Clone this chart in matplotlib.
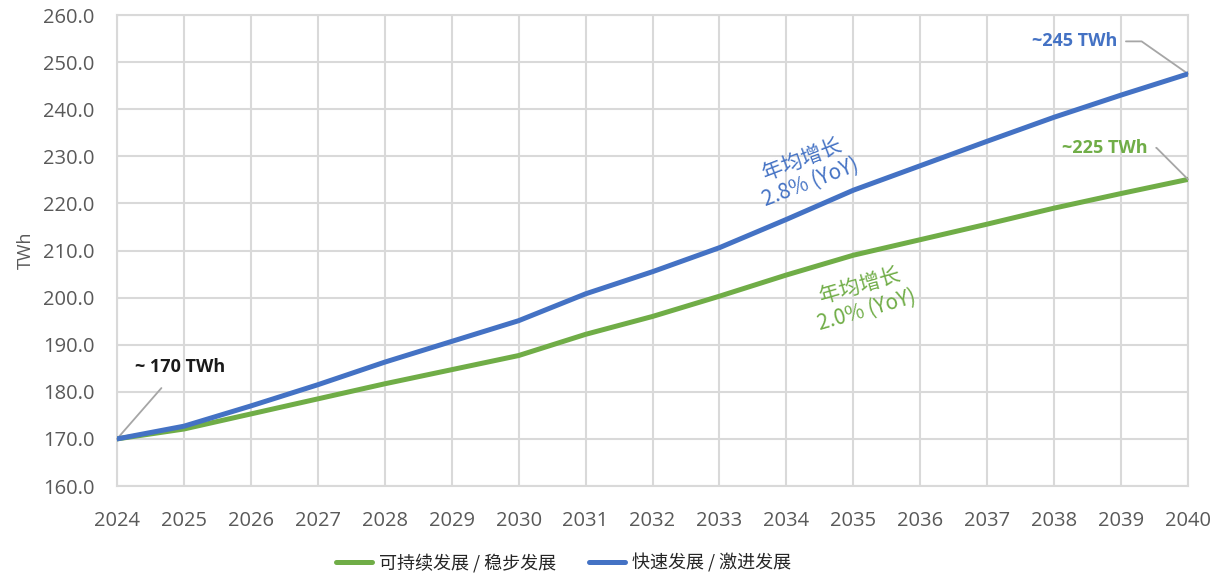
import matplotlib
matplotlib.use("Agg")
import matplotlib.pyplot as plt

plt.rcParams['font.family'] = ['Open Sans', 'Noto Sans CJK SC', 'DejaVu Sans']

# ---- data ----
years = list(range(2024, 2041))
steady = [170.0, 172.1, 175.3, 178.5, 181.7, 184.7, 187.7, 192.2, 196.0,
          200.3, 204.8, 209.0, 212.3, 215.6, 219.0, 222.1, 225.1]
fast = [170.0, 172.7, 177.0, 181.5, 186.3, 190.7, 195.1, 200.8, 205.5,
        210.6, 216.6, 222.8, 228.0, 233.2, 238.3, 243.0, 247.5]
series_names = ['可持续发展 / 稳步发展', '快速发展 / 激进发展']
yticks = [160, 170, 180, 190, 200, 210, 220, 230, 240, 250, 260]

GREEN = '#70AD47'
BLUE = '#4472C4'
GRID = '#d9d9d9'
TICK = '#595959'
CJK = ['Noto Sans CJK SC', 'DejaVu Sans']

fig = plt.figure(figsize=(12.2, 5.77), dpi=100)
ax = fig.add_axes([0.0959, 0.1577, 0.8779, 0.8163])

ax.plot(years, steady, color=GREEN, lw=3.6, solid_capstyle='round', label=series_names[0], zorder=3)
ax.plot(years, fast, color=BLUE, lw=3.6, solid_capstyle='round', label=series_names[1], zorder=4)

ax.set_xlim(2024, 2040)
ax.set_ylim(160, 260)
ax.set_xticks(years)
ax.set_yticks(yticks)
ax.set_yticklabels([f'{v:.1f}' for v in yticks])
ax.grid(True, color=GRID, lw=1.5)
ax.set_axisbelow(True)
for s in ax.spines.values():
    s.set_color(GRID)
    s.set_linewidth(1.5)
ax.tick_params(length=0, labelsize=14.5, colors=TICK)
ax.tick_params(axis='x', pad=18)
ax.tick_params(axis='y', pad=16)
ax.set_ylabel('TWh', fontsize=13, color=TICK, labelpad=6)

# start / end value callouts
ax.annotate('~ 170 TWh', xy=(2024, 170), xytext=(2024.94, 185.3),
            ha='center', va='center', fontsize=13, fontweight='bold', color='#1a1a1a',
            arrowprops=dict(arrowstyle='-', color='#a6a6a6', lw=1.3, shrinkA=9, shrinkB=0))
ax.annotate('~245 TWh', xy=(2040, fast[-1]), xytext=(2038.31, 254.4),
            ha='center', va='center', fontsize=13, fontweight='bold', color=BLUE,
            arrowprops=dict(arrowstyle='-', color='#a6a6a6', lw=1.3, shrinkA=4, shrinkB=0,
                            connectionstyle='angle,angleA=0,angleB=-35,rad=0'))
ax.annotate('~225 TWh', xy=(2040, steady[-1]), xytext=(2038.76, 231.8),
            ha='center', va='center', fontsize=13, fontweight='bold', color=GREEN,
            arrowprops=dict(arrowstyle='-', color='#a6a6a6', lw=1.3, shrinkA=4, shrinkB=0,
                            connectionstyle='angle,angleA=0,angleB=-45,rad=0'))

# growth rate labels along the lines
ax.text(2034.3, 226.9, '年均增长\n2.8% (YoY)', rotation=21, ha='center', va='center',
        fontsize=15, color=BLUE, family=CJK, linespacing=1.2)
ax.text(2035.15, 200.0, '年均增长\n2.0% (YoY)', rotation=16, ha='center', va='center',
        fontsize=15, color=GREEN, family=CJK, linespacing=1.2)

fig.legend(loc='lower center', bbox_to_anchor=(0.462, -0.02), ncol=2, frameon=False,
           prop={'family': CJK, 'size': 13}, handlelength=2.0, columnspacing=1.8,
           handletextpad=0.4, labelcolor='#262626')

fig.savefig('out.png', dpi=100)
